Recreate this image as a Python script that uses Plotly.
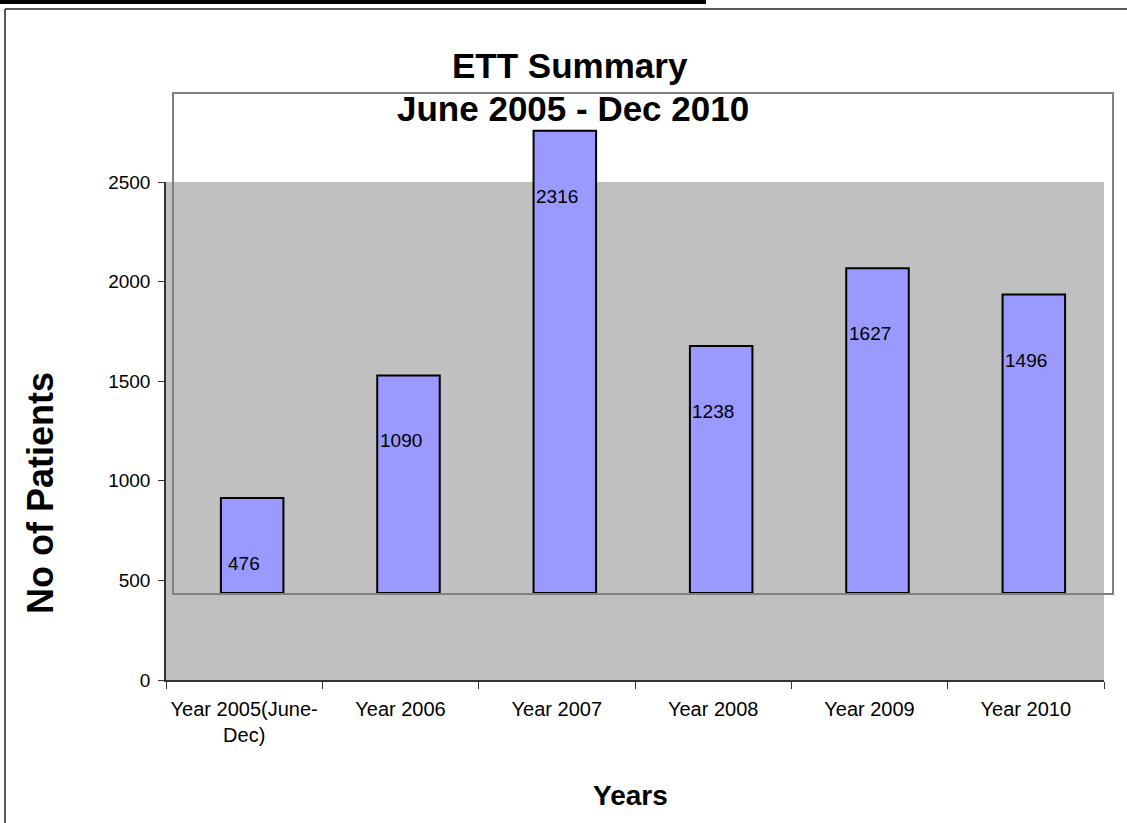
import plotly.graph_objects as go

categories = ["Year 2005(June-<br>Dec)", "Year 2006", "Year 2007", "Year 2008", "Year 2009", "Year 2010"]
patients = [476, 1090, 2316, 1238, 1627, 1496]
y_ticks = [0, 500, 1000, 1500, 2000, 2500]

W, H = 1127, 823
L, R, T, B = 166, 1112, 94, 680  # paper edges in pixels


def px(x):
    return (x - L) / (R - L)


def py(y):
    return (B - y) / (B - T)


FONT = "Liberation Sans, Arial, sans-serif"

fig = go.Figure()
# invisible trace so that the primary (gray) axes exist
fig.add_trace(go.Scatter(
    x=categories, y=patients, mode="markers", marker=dict(opacity=0),
    xaxis="x", yaxis="y", showlegend=False, hoverinfo="skip"))
# bars (on the shifted frame)
fig.add_trace(go.Bar(
    x=categories, y=patients, xaxis="x2", yaxis="y2", width=0.4,
    marker=dict(color="#9999FF", line=dict(color="black", width=2)),
    showlegend=False, hoverinfo="skip"))

fig.update_layout(
    width=W, height=H,
    margin=dict(l=L, r=W - R, t=T, b=H - B, pad=0),
    paper_bgcolor="white", plot_bgcolor="rgba(0,0,0,0)",
    font=dict(family=FONT, color="black", size=19),
    xaxis=dict(domain=[0, px(1104)], type="category", range=[-0.5, 5.5],
               showline=True, linecolor="#333333", linewidth=1.5,
               ticks="outside", tickson="boundaries", ticklen=7, tickcolor="#333333",
               showgrid=False, zeroline=False, tickfont=dict(size=20),
               ticklabelstandoff=10, anchor="y"),
    yaxis=dict(domain=[0, py(182)], range=[0, 2500], tickvals=y_ticks,
               showline=True, linecolor="#333333", linewidth=1.5,
               ticks="outside", ticklen=6, tickcolor="#333333",
               showgrid=False, zeroline=False, tickfont=dict(size=19),
               ticklabelstandoff=4, anchor="x"),
    xaxis2=dict(domain=[px(174), 1], type="category", range=[-0.5, 5.5],
                showline=True, mirror=True, linecolor="#808080", linewidth=2,
                showticklabels=False, ticks="", showgrid=False, zeroline=False,
                anchor="y2", layer="below traces"),
    yaxis2=dict(domain=[py(593), 1], range=[0, 2500],
                showline=True, mirror=True, linecolor="#808080", linewidth=2,
                showticklabels=False, ticks="", showgrid=False, zeroline=False,
                anchor="x2", layer="below traces"),
    showlegend=False,
)

shapes = [
    # gray plot area
    dict(type="rect", xref="x domain", yref="y domain", x0=0, x1=1, y0=0, y1=1,
         fillcolor="#C0C0C0", line=dict(width=0), layer="below"),
    # outer frame
    dict(type="line", xref="paper", yref="paper", x0=px(5), x1=px(5), y0=py(9), y1=py(840),
         line=dict(color="#222222", width=1.5)),
    dict(type="line", xref="paper", yref="paper", x0=px(5), x1=px(1140), y0=py(9), y1=py(9),
         line=dict(color="#222222", width=1.5)),
    # thick black bar at top
    dict(type="rect", xref="paper", yref="paper", x0=px(-5), x1=px(706), y0=py(-5), y1=py(4),
         fillcolor="black", line=dict(width=0)),
]
fig.update_layout(shapes=shapes)

annotations = [
    dict(text="<b>ETT Summary</b>", x=px(570), y=py(66), font=dict(size=35)),
    dict(text="<b>June 2005 - Dec 2010</b>", x=px(573), y=py(108), font=dict(size=35)),
    dict(text="<b>No of Patients</b>", x=px(40), y=py(493), textangle=-90, font=dict(size=36)),
    dict(text="<b>Years</b>", x=px(630), y=py(795), font=dict(size=28)),
]
for a in annotations:
    a.update(xref="paper", yref="paper", showarrow=False, xanchor="center", yanchor="middle")

# data labels, placed on the primary (gray) axes
for i, v in enumerate(patients):
    annotations.append(dict(text=str(v), x=i, y=v, xref="x", yref="y", showarrow=False,
                            xanchor="center", yanchor="middle", yshift=22,
                            font=dict(size=19, color="black")))
fig.update_layout(annotations=annotations)

fig.write_html("out.html", config={"displayModeBar": False},
               post_script="document.body.style.margin='0';")
